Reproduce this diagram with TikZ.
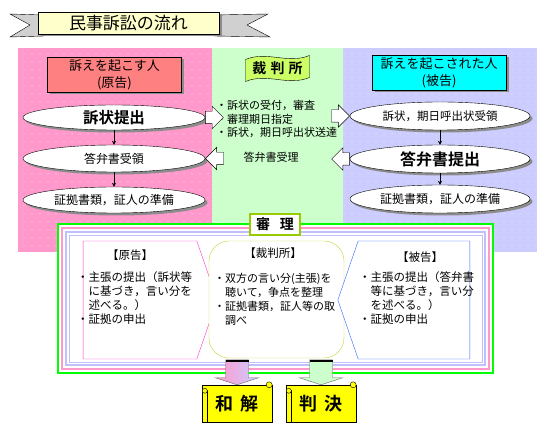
\documentclass[tikz,border=0pt]{standalone}
\usepackage{fontspec}
\setmainfont{Noto Sans CJK JP}[BoldFont={Noto Sans CJK JP Bold}]
\usepackage{xcolor}
\usepackage{tikz}
\usetikzlibrary{arrows.meta,positioning,shapes.geometric,shapes.arrows,shapes.symbols,shadows,calc,patterns.meta}

\definecolor{pinkbg}{HTML}{FF99CC}
\definecolor{greenbg}{HTML}{CCFFCC}
\definecolor{lavbg}{HTML}{CCCCFF}
\definecolor{salmon}{HTML}{FF8080}
\definecolor{cyanbox}{HTML}{00FFFF}
\definecolor{flagc}{HTML}{CCFF66}
\definecolor{titlec}{HTML}{FFFFCC}
\definecolor{tailc}{HTML}{D0D0D0}
\definecolor{framegreen}{HTML}{00FF00}
\definecolor{framelav}{HTML}{C0C0FF}
\definecolor{labelgreen}{HTML}{99CC00}
\definecolor{courtline}{HTML}{C8D43A}
\definecolor{plainmag}{HTML}{FF33CC}
\definecolor{defblue}{HTML}{3366FF}
\definecolor{scrollc}{HTML}{FFFF00}

\begin{document}
\begin{tikzpicture}[x=1pt, y=-1pt,
    dotfill/.style={pattern={Dots[distance=8pt, radius=0.5pt]}, pattern color=white},
    shadowed/.style={drop shadow={shadow xshift=2.5pt, shadow yshift=-2.5pt, fill=black!45, opacity=1}},
    partybox/.style={draw, rectangle, shadowed, minimum width=134, minimum height=35, inner sep=0, align=center, font=\fontsize{13}{17}\selectfont},
    stepoval/.style={draw, ellipse, fill=white, shadowed, inner sep=0, minimum width=182, minimum height=27, font=\fontsize{12}{14}\selectfont},
    keyoval/.style={stepoval, font=\fontsize{15.5}{17}\selectfont\bfseries},
    smallarr/.style={-{Stealth[length=4pt, width=4pt]}},
    blockarr/.style={draw, fill=white, single arrow, single arrow head extend=5pt, single arrow tip angle=90, minimum height=18, inner xsep=0, inner ysep=6},
    outline/.style={draw=black!60},
    midtext/.style={align=left, inner sep=0, font=\fontsize{11}{13.5}\selectfont},
    sidetext/.style={align=left, inner sep=0, anchor=north west, font=\fontsize{11.5}{14}\selectfont},
    scrollbox/.style={draw, fill=scrollc, minimum width=70, minimum height=37, inner sep=0, font=\fontsize{18}{20}\selectfont\bfseries}]
    \useasboundingbox (0,0) rectangle (550,430);

    % Title ribbon
    \draw[fill=tailc] (44,15) -- (10,14) -- (30,25) -- (10,37) -- (44,36) -- cycle;
    \draw[fill=tailc] (214,15) -- (268,14) -- (247,25) -- (270,37) -- (214,36) -- cycle;
    \node[draw, fill=titlec, shadowed, minimum width=181, minimum height=22, inner sep=0, font=\fontsize{17}{19}\selectfont] (title) at (128.5,23) {民事訴訟の流れ};

    % Column backgrounds
    \fill[pinkbg] (18,48) rectangle (212,252);
    \fill[greenbg] (212,48) rectangle (343,252);
    \fill[lavbg] (343,48) rectangle (537,252);
    \fill[dotfill] (18,48) rectangle (537,252);

    % Plaintiff column
    \node[partybox, fill=salmon] (plhead) at (114.5,74.5) {訴えを起こす人\\(原告)};
    \node[keyoval, minimum height=25] (plfile) at (114,117.5) {訴状提出};
    \node[stepoval] (plans) at (114,158.5) {答弁書受領};
    \node[stepoval, minimum height=26] (plprep) at (114,200) {証拠書類，証人の準備};
    \draw[smallarr] (plfile) -- (plans);
    \draw[smallarr] (plans) -- (plprep);

    % Court column
    \coordinate (flagc) at (277.5,68.5);
    \draw[fill=flagc] ($(flagc)+(-32,-9)$) .. controls +(22,-9) and +(-22,9) .. ($(flagc)+(32,-13)$)
        -- ($(flagc)+(32,9)$) .. controls +(-22,9) and +(22,-9) .. ($(flagc)+(-32,13)$) -- cycle;
    \node[font=\fontsize{14}{16}\selectfont\bfseries, inner sep=0] (court) at (flagc) {裁\hspace{0.3em}判\hspace{0.3em}所};
    \node[midtext, anchor=west] (courtwork) at (216,119) {・訴状の受付，審査\\・審理期日指定\\・訴状，期日呼出状送達};
    \node[midtext] (courtrecv) at (271,157) {答弁書受理};

    % Defendant column
    \node[partybox, fill=cyanbox] (dfhead) at (439,72.5) {訴えを起こされた人\\(被告)};
    \node[stepoval, minimum width=180, minimum height=28, font=\fontsize{11.5}{14}\selectfont] (dfrecv) at (440,116) {訴状，期日呼出状受領};
    \node[keyoval, minimum width=180, minimum height=28, font=\fontsize{16}{18}\selectfont\bfseries] (dfans) at (440,159) {答弁書提出};
    \node[stepoval, minimum width=180, minimum height=28] (dfprep) at (440,199) {証拠書類，証人の準備};
    \draw[smallarr] (dfrecv) -- (dfans);
    \draw[smallarr] (dfans) -- (dfprep);

    % Block arrows between columns
    \node[blockarr, anchor=tail] (sendR) at (plfile.east) {};
    \node[blockarr, shape border rotate=180, anchor=tip] (backL) at (plans.east) {};
    \node[blockarr, anchor=tip] (sendD) at (dfrecv.west) {};
    \node[blockarr, shape border rotate=180, anchor=tail] (backD) at (dfans.west) {};

    % Hearing frame
    \draw[framegreen, line width=2.5, fill=white] (58,224) rectangle (493,373);
    \draw[pinkbg, line width=2] (62,228) rectangle (489,369);
    \draw[framelav, line width=1.5] (66,232) rectangle (485,365);
    \draw[framelav, line width=0.8] (69,235) rectangle (482,362);
    \node[draw=labelgreen, line width=1.5, fill=white, minimum width=50, minimum height=21, inner sep=0, font=\fontsize{14}{16}\selectfont\bfseries] (hearing) at (275,224.5) {審\hspace{0.7em}理};

    \node[signal, signal to=east, signal pointer angle=142, draw=plainmag, fill=white, minimum width=134, minimum height=118, inner sep=0] (plbox) at (140,300) {};
    \node[font=\fontsize{11.5}{14}\selectfont, inner sep=0] (pltitle) at (130,255) {【原告】};
    \node[sidetext] (pltext) at (77,271) {・主張の提出（訴状等\\\hspace{1em}に基づき，言い分を\\\hspace{1em}述べる。）\\・証拠の申出};

    \node[draw=courtline, fill=white, rounded corners=20, minimum width=135, minimum height=117, inner sep=0] (cobox) at (276.5,299.5) {};
    \node[font=\fontsize{11.5}{14}\selectfont, inner sep=0] (cotitle) at (273,253) {【裁判所】};
    \node[sidetext, font=\fontsize{11}{14}\selectfont] (cotext) at (214,273) {・双方の言い分(主張)を\\\hspace{1em}聴いて，争点を整理\\・証拠書類，証人等の取\\\hspace{1em}調べ};

    \node[signal, signal to=west, signal pointer angle=142, draw=defblue, fill=white, minimum width=132, minimum height=118, inner sep=0] (dfbox) at (414,300) {};
    \node[font=\fontsize{11.5}{14}\selectfont, inner sep=0] (dftitle) at (420,257) {【被告】};
    \node[sidetext] (dftext) at (359,271) {・主張の提出（答弁書\\\hspace{1em}等に基づき，言い分\\\hspace{1em}を述べる。）\\・証拠の申出};

    % Outcomes
    \node[scrollbox] (wakai) at (237,403.5) {和\hspace{0.4em}解};
    \node[scrollbox] (hanketsu) at (321,403.5) {判\hspace{0.4em}決};
    \foreach \s in {wakai,hanketsu} {
        \draw[fill=scrollc] ($(\s.north east)+(-3,0)$) circle (3);
        \draw ($(\s.north west)+(5,5)$) -- ($(\s.south west)+(5,0)$);
        \draw[fill=scrollc] ($(\s.north west)+(3,6)$) circle (2.5);
    }
    % Down arrows into the outcomes
    \draw[outline, left color=pinkbg, right color=lavbg] ($(wakai.north)+(-11.5,-25)$) -- ($(wakai.north)+(11.5,-25)$)
        -- ($(wakai.north)+(11.5,-7)$) -- ($(wakai.north)+(21.5,-7)$) -- (wakai.north)
        -- ($(wakai.north)+(-21.5,-7)$) -- ($(wakai.north)+(-11.5,-7)$) -- cycle;
    \draw[outline, fill=greenbg] ($(hanketsu.north)+(-11.5,-25)$) -- ($(hanketsu.north)+(11.5,-25)$)
        -- ($(hanketsu.north)+(11.5,-7)$) -- ($(hanketsu.north)+(21.5,-7)$) -- (hanketsu.north)
        -- ($(hanketsu.north)+(-21.5,-7)$) -- ($(hanketsu.north)+(-11.5,-7)$) -- cycle;
    \foreach \s in {wakai,hanketsu}
        \draw[line width=2.5pt] ($(\s.north)+(-11.5,-24)$) -- ($(\s.north)+(11.5,-24)$);
\end{tikzpicture}
\end{document}
